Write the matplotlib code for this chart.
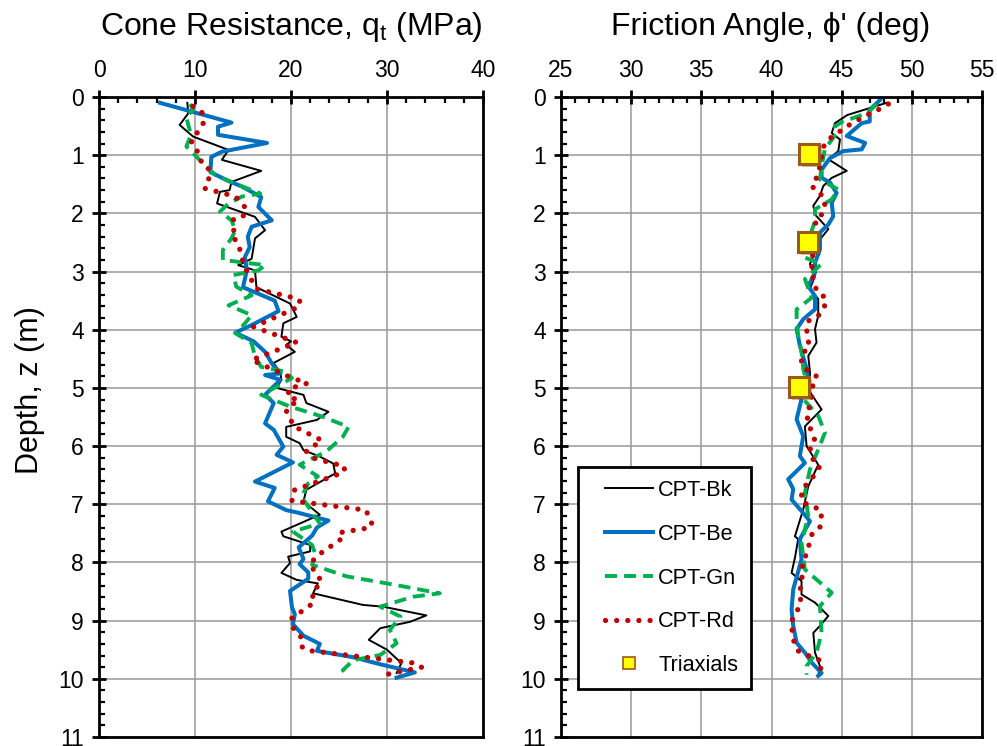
import matplotlib
matplotlib.use("Agg")
import matplotlib.pyplot as plt
import matplotlib.patheffects as pe
from matplotlib.lines import Line2D
from matplotlib.legend_handler import HandlerLine2D
from matplotlib.ticker import MultipleLocator

plt.rcParams['font.family'] = ['Liberation Sans', 'DejaVu Sans']
plt.rcParams['mathtext.default'] = 'regular'

# ---- cone resistance qt (MPa) vs depth (m) ----
qt_bk = [9.2, 9.3, 8.4, 9.8, 13.5, 12.8, 16.9, 13.8, 13.6, 12.6, 12.3, 16.25, 17.3, 16.25, 15.9, 14.5,
         16.25, 16.4, 19.9, 20.6, 19.2, 19.0, 20.0, 19.5, 20.4, 18.2, 18.9, 19.0, 18.5, 21.3, 21.6, 23.9,
         22.7, 19.5, 19.5, 20.9, 21.3, 23.0, 24.4, 24.6, 21.6, 21.3, 23.0, 19.0, 19.2, 22.0, 22.0, 19.7,
         19.9, 19.0, 20.6, 22.8, 22.3, 27.5, 29.6, 34.1, 32.4, 29.3, 28.1, 30.0, 31.5, 31.0]
z_qt_bk = [0.10, 0.28, 0.48, 0.68, 0.91, 1.08, 1.27, 1.46, 1.60, 1.63, 1.83, 2.06, 2.29, 2.43, 2.78, 2.89,
           2.98, 3.27, 3.55, 3.78, 3.89, 4.12, 4.20, 4.26, 4.38, 4.57, 4.75, 4.86, 5.00, 5.12, 5.26, 5.41,
           5.55, 5.67, 5.84, 5.95, 6.07, 6.18, 6.30, 6.47, 6.75, 6.95, 7.18, 7.47, 7.55, 7.70, 7.81, 7.90,
           8.01, 8.18, 8.30, 8.36, 8.53, 8.73, 8.76, 8.91, 9.02, 9.13, 9.33, 9.50, 9.73, 9.90]

qt_be = [6.35, 13.8, 12.4, 12.4, 17.5, 12.8, 11.7, 11.6, 13.3, 14.9, 16.9, 16.6, 18.0, 15.9, 15.5, 15.7,
         15.2, 15.4, 15.0, 18.3, 18.7, 15.9, 14.2, 16.1, 17.3, 18.0, 18.9, 17.3, 18.9, 17.6, 17.3, 18.2,
         17.3, 18.2, 19.2, 18.5, 20.2, 16.25, 18.3, 17.6, 19.5, 20.6, 23.9, 22.7, 22.2, 20.8, 21.3, 20.9,
         21.8, 21.8, 19.9, 20.1, 20.4, 20.2, 21.3, 23.0, 22.7, 26.5, 29.3, 32.9, 31.0]
z_qt_be = [0.10, 0.44, 0.51, 0.65, 0.79, 0.94, 1.03, 1.29, 1.43, 1.54, 1.72, 1.89, 2.12, 2.23, 2.40, 2.58,
           2.75, 2.98, 3.27, 3.50, 3.68, 3.92, 4.05, 4.20, 4.38, 4.58, 4.75, 4.78, 4.86, 5.07, 5.12, 5.26,
           5.61, 5.72, 6.01, 6.15, 6.28, 6.61, 6.72, 6.95, 7.10, 7.14, 7.28, 7.40, 7.54, 7.74, 7.94, 8.03,
           8.17, 8.28, 8.49, 8.77, 8.89, 9.06, 9.26, 9.40, 9.52, 9.63, 9.75, 9.89, 9.98]

qt_gn = [9.5, 9.8, 9.1, 9.3, 9.6, 9.1, 10.0, 11.0, 12.1, 14.2, 16.8, 14.9, 13.5, 12.6, 13.8, 14.2, 13.8,
         12.9, 12.9, 17.3, 16.6, 14.0, 14.3, 15.9, 13.5, 15.9, 14.9, 14.2, 15.9, 16.25, 16.9, 19.4, 20.1,
         18.5, 16.9, 19.9, 23.2, 26.0, 25.4, 23.7, 20.9, 22.8, 21.8, 21.1, 22.5, 23.0, 20.2, 22.2, 22.5,
         22.2, 25.8, 30.0, 35.5, 32.7, 29.3, 31.4, 30.3, 31.0, 29.3, 26.5, 25.4, 25.8]
z_qt_gn = [0.12, 0.22, 0.34, 0.48, 0.65, 0.85, 1.00, 1.17, 1.34, 1.49, 1.66, 1.71, 1.83, 1.97, 2.12, 2.29,
           2.43, 2.63, 2.80, 2.89, 2.98, 3.06, 3.26, 3.41, 3.58, 3.75, 3.95, 4.06, 4.23, 4.46, 4.64, 4.72,
           4.83, 4.98, 5.12, 5.32, 5.49, 5.67, 5.84, 6.09, 6.32, 6.52, 6.64, 6.87, 7.21, 7.33, 7.47, 7.70,
           7.84, 8.04, 8.24, 8.36, 8.53, 8.59, 8.76, 8.93, 9.16, 9.39, 9.59, 9.68, 9.85, 9.93]

qt_rd = [9.8, 10.7, 10.9, 10.3, 9.6, 9.8, 10.5, 10.7, 11.6, 11.4, 11.0, 14.2, 15.4, 15.0, 14.0, 14.2,
         13.8, 14.5, 15.0, 15.4, 16.4, 19.8, 20.9, 20.9, 16.1, 20.6, 15.9, 20.1, 21.7, 19.7, 19.8, 20.8,
         19.5, 20.3, 23.2, 21.6, 22.4, 25.6, 25.5, 20.3, 20.1, 27.8, 28.4, 28.3, 25.0, 25.2, 22.6, 22.0,
         23.2, 22.2, 22.4, 20.0, 20.2, 21.0, 21.0, 21.6, 32.9, 33.6, 29.2]
z_qt_rd = [0.16, 0.25, 0.44, 0.60, 0.74, 0.85, 0.98, 1.15, 1.26, 1.43, 1.57, 1.71, 1.93, 2.05, 2.10, 2.23,
           2.38, 2.51, 2.83, 3.00, 3.30, 3.43, 3.49, 3.60, 3.95, 4.22, 4.52, 4.83, 4.92, 5.02, 5.18, 5.19,
           5.39, 5.66, 5.90, 6.09, 6.21, 6.35, 6.45, 6.76, 6.94, 7.10, 7.32, 7.40, 7.49, 7.60, 7.90, 8.04,
           8.33, 8.52, 8.69, 8.97, 9.12, 9.26, 9.43, 9.51, 9.73, 9.80, 9.95]

# ---- friction angle phi' (deg) vs depth (m) ----
phi_bk = [48.2, 45.4, 44.52, 44.29, 44.88, 44.76, 44.05, 45.36, 44.29, 43.69, 43.45, 42.98, 43.10, 44.05,
          43.45, 43.10, 42.74, 43.10, 42.74, 43.33, 43.33, 43.10, 43.21, 42.62, 42.74, 42.74, 43.57, 42.38,
          42.5, 43.33, 42.62, 42.26, 41.67, 41.90, 41.67, 41.43, 42.14, 42.14, 43.10, 44.05, 43.45, 42.98,
          43.10, 43.45, 43.33]
z_phi_bk = [0.10, 0.31, 0.45, 0.62, 0.73, 0.93, 1.07, 1.27, 1.39, 1.53, 1.70, 1.87, 2.02, 2.27, 2.45, 2.67,
            2.87, 3.07, 3.30, 3.47, 3.76, 3.99, 4.22, 4.45, 4.73, 5.07, 5.37, 5.66, 6.00, 6.32, 6.69, 7.09,
            7.55, 7.60, 7.92, 8.18, 8.32, 8.55, 8.69, 8.92, 9.09, 9.21, 9.55, 9.78, 9.95]

phi_be = [47.74, 47.0, 47.0, 46.43, 45.36, 46.67, 46.43, 45.12, 44.17, 43.57, 43.57, 44.17, 44.64, 44.29,
          44.40, 44.05, 43.45, 43.45, 43.10, 43.10, 42.62, 43.10, 43.10, 42.26, 41.79, 42.02, 42.5, 42.62,
          42.14, 41.79, 42.26, 42.02, 42.38, 41.19, 41.55, 41.43, 42.26, 42.74, 42.02, 42.14, 41.55, 41.43,
          41.55, 41.79, 42.38, 42.86, 43.57, 43.33]
z_phi_be = [0.05, 0.22, 0.42, 0.45, 0.67, 0.79, 0.90, 0.93, 1.05, 1.25, 1.39, 1.47, 1.65, 1.82, 2.05, 2.19,
            2.33, 2.62, 2.85, 3.02, 3.25, 3.42, 3.65, 3.82, 3.99, 4.27, 4.67, 4.90, 5.19, 5.54, 5.83, 6.17,
            6.29, 6.57, 6.74, 6.92, 7.15, 7.29, 7.60, 7.95, 8.46, 8.81, 9.09, 9.38, 9.55, 9.72, 9.90, 9.95]

phi_gn = [47.5, 46.8, 45.1, 44.52, 44.64, 43.8, 43.57, 43.45, 44.76, 44.29, 43.10, 43.10, 42.74, 42.26,
          42.38, 43.57, 42.38, 42.86, 41.79, 41.79, 41.90, 42.14, 42.26, 42.50, 42.26, 43.33, 43.81, 43.33,
          42.74, 42.38, 42.62, 42.14, 42.38, 44.29, 43.45, 43.57, 43.21, 42.5, 42.5]
z_phi_gn = [0.12, 0.28, 0.42, 0.50, 0.62, 0.90, 1.19, 1.42, 1.59, 1.76, 1.93, 2.13, 2.39, 2.62, 2.76, 2.87,
            3.13, 3.45, 3.65, 3.87, 4.10, 4.39, 4.67, 4.90, 5.19, 5.48, 5.77, 6.06, 6.40, 6.80, 7.20, 7.66,
            8.12, 8.52, 8.75, 9.21, 9.55, 9.78, 9.93]

phi_rd = [48.33, 47.38, 46.67, 46.02, 45.31, 44.71, 44.05, 43.69, 43.57, 43.45, 43.33, 42.86, 43.10, 43.69,
          43.81, 43.57, 43.10, 43.3, 43.0, 42.9, 42.86, 43.21, 43.88, 43.76, 43.33, 42.62, 42.5, 42.69,
          42.14, 42.14, 42.62, 43.21, 42.98, 42.86, 42.86, 42.5, 42.62, 43.10, 42.74, 42.93, 43.45, 43.17,
          42.21, 42.10, 42.67, 43.45, 43.57, 43.45, 42.90, 42.5, 42.19, 42.21, 42.02, 42.10, 41.38, 41.62,
          41.90, 42.62, 43.33, 43.69, 43.10]
z_phi_rd = [0.12, 0.25, 0.32, 0.42, 0.51, 0.62, 0.73, 0.86, 1.02, 1.19, 1.35, 1.50, 1.62, 1.70, 1.87, 2.02,
            2.13, 2.30, 2.55, 2.80, 3.02, 3.33, 3.46, 3.62, 3.76, 3.85, 3.99, 4.30, 4.42, 4.59, 4.72, 4.80,
            4.90, 5.10, 5.25, 5.43, 5.60, 5.91, 6.06, 6.22, 6.34, 6.47, 6.74, 6.92, 7.03, 7.08, 7.23, 7.39,
            7.50, 7.85, 8.02, 8.19, 8.52, 8.71, 9.03, 9.39, 9.52, 9.60, 9.66, 9.78, 9.91]

phi_tx = [42.69, 42.62, 41.98]
z_tx = [0.985, 2.49, 4.99]

labels = ['CPT-Bk', 'CPT-Be', 'CPT-Gn', 'CPT-Rd', 'Triaxials']

# styles
sty_bk = dict(color='black', lw=1.4)
sty_be = dict(color='#0070C0', lw=2.9)
sty_gn = dict(color='#00B050', lw=2.8, linestyle=(0, (3.1, 1.8)))
sty_rd = dict(color='#C00000', lw=3.8, linestyle=(0, (0.01, 2.1)), dash_capstyle='round')
tx_face, tx_edge = '#FFFF00', '#9C5A14'

fig = plt.figure(figsize=(9.97, 7.46), dpi=100)
ax1 = fig.add_axes([99 / 997, 1 - 737 / 746, 384 / 997, 640 / 746])
ax2 = fig.add_axes([561 / 997, 1 - 737 / 746, 421 / 997, 640 / 746])

ax1.plot(qt_bk, z_qt_bk, **sty_bk)
ax1.plot(qt_be, z_qt_be, **sty_be)
ax1.plot(qt_gn, z_qt_gn, **sty_gn)
ax1.plot(qt_rd, z_qt_rd, **sty_rd)

ax2.plot(phi_bk, z_phi_bk, **sty_bk)
ax2.plot(phi_be, z_phi_be, **sty_be)
ax2.plot(phi_gn, z_phi_gn, **sty_gn)
ax2.plot(phi_rd, z_phi_rd, **sty_rd)
ax2.plot(phi_tx, z_tx, linestyle='none', marker='s', markersize=14.5,
         markerfacecolor=tx_face, markeredgecolor=tx_edge, markeredgewidth=2.2,
         path_effects=[pe.SimplePatchShadow(offset=(2, -2), alpha=0.35), pe.Normal()], zorder=5)

for ax, xlim, xmaj, xmin in [(ax1, (0, 40), 10, 2), (ax2, (25, 55), 5, 1)]:
    ax.set_xlim(*xlim)
    ax.set_ylim(11, 0)
    ax.xaxis.set_major_locator(MultipleLocator(xmaj))
    ax.xaxis.set_minor_locator(MultipleLocator(xmin))
    ax.yaxis.set_major_locator(MultipleLocator(1))
    ax.yaxis.set_minor_locator(MultipleLocator(0.2))
    ax.xaxis.tick_top()
    ax.tick_params(which='major', direction='inout', length=10, width=2, labelsize=16.5, pad=6)
    ax.tick_params(which='minor', direction='in', length=4, width=1.6)
    ax.tick_params(axis='x', which='both', top=True, bottom=False)
    ax.tick_params(axis='y', which='both', left=True, right=False)
    ax.grid(True, which='major', color='#999999', lw=1.1)
    ax.set_axisbelow(True)
    for s in ax.spines.values():
        s.set_linewidth(2)
        s.set_color('black')

fig.text(291 / 997, 1 - 27 / 746, 'Cone Resistance, q$_{t}$ (MPa)', ha='center', va='center', fontsize=23)
fig.text(771 / 997, 1 - 27 / 746, "Friction Angle, \u03d5' (deg)", ha='center', va='center', fontsize=23)
fig.text(30 / 997, 1 - 390 / 746, 'Depth, z (m)', rotation=90, ha='center', va='center', fontsize=22)

handles = [Line2D([], [], **sty_bk), Line2D([], [], **sty_be), Line2D([], [], **sty_gn),
           Line2D([], [], **sty_rd),
           Line2D([], [], linestyle='none', marker='s', markersize=9, markerfacecolor=tx_face,
                  markeredgecolor=tx_edge, markeredgewidth=1.2)]
# handle area is wider than the drawn line so the box gets Excel-like left padding
hmap = {h: HandlerLine2D(xpad=0.65) for h in handles}
leg = ax2.legend(handles, labels, loc='lower left', bbox_to_anchor=(0.04, 0.075), borderaxespad=0,
                 fontsize=15.6, frameon=True, fancybox=False, framealpha=1, edgecolor='black',
                 handlelength=2.85, handletextpad=0.25, labelspacing=1.05, borderpad=0.6,
                 handler_map=hmap)
leg.get_frame().set_linewidth(2)

fig.savefig('out.png', dpi=100)
